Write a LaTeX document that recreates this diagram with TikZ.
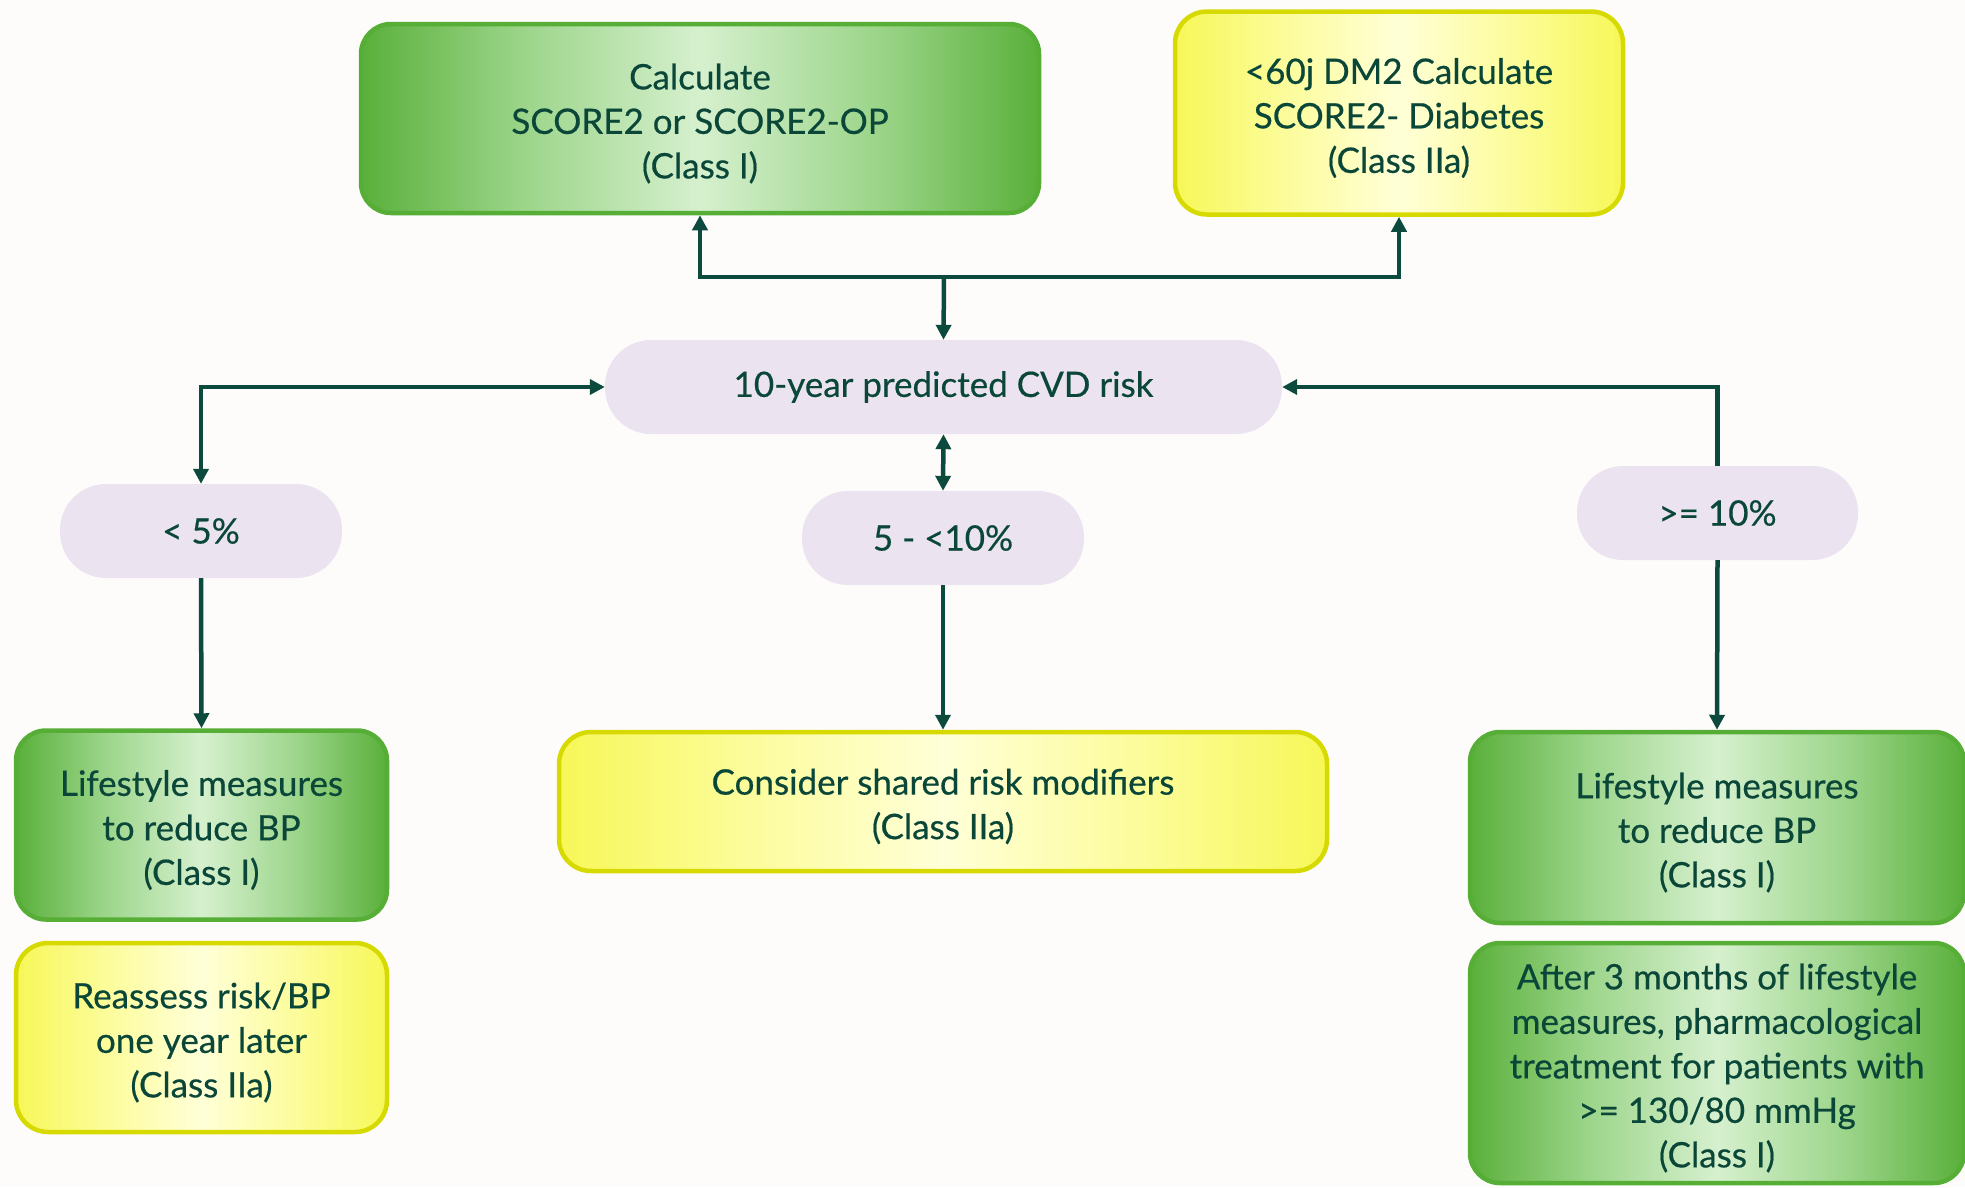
\documentclass[tikz,border=0pt]{standalone}
\usepackage{fontspec}
\setmainfont{Lato}[FakeBold=0.5]
\usetikzlibrary{arrows.meta}
\definecolor{txt}{HTML}{0A4739}
\definecolor{linec}{HTML}{0C4A3E}
\definecolor{bgc}{HTML}{FDFCFB}
\definecolor{pillc}{HTML}{ECE3F0}
\definecolor{gborder}{HTML}{57AE36}
\definecolor{gdark}{HTML}{5AB03B}
\definecolor{gmid}{HTML}{9CD58A}
\definecolor{glight}{HTML}{D6F0CE}
\definecolor{yborder}{HTML}{D7DA00}
\definecolor{ydark}{HTML}{F7F758}
\definecolor{ymid}{HTML}{FCFC9A}
\definecolor{ylight}{HTML}{FFFFD8}
\pgfdeclarehorizontalshading{greensh}{100bp}{color(0bp)=(gdark); color(25bp)=(gdark); color(37bp)=(gmid); color(50bp)=(glight); color(63bp)=(gmid); color(75bp)=(gdark); color(100bp)=(gdark)}
\pgfdeclarehorizontalshading{yellowsh}{100bp}{color(0bp)=(ydark); color(25bp)=(ydark); color(37bp)=(ymid); color(50bp)=(ylight); color(63bp)=(ymid); color(75bp)=(ydark); color(100bp)=(ydark)}
\tikzset{
  base/.style={text=txt, font=\fontsize{35}{44.5}\selectfont, align=center, inner sep=0pt},
  greenbox/.style={draw=gborder, line width=4.5pt, rounded corners=30pt, shade, shading=greensh, inner sep=0pt},
  yellowbox/.style={draw=yborder, line width=4.5pt, rounded corners=32pt, shade, shading=yellowsh, inner sep=0pt},
  boxtext/.style={base, yshift=-5pt},
  pill/.style={base, fill=pillc, rounded corners=46pt, minimum height=94pt},
  arr/.style={draw=linec, line width=4.5pt, -{Triangle[length=15pt,width=15pt]}},
  darr/.style={draw=linec, line width=4.5pt, {Triangle[length=15pt,width=15pt]}-{Triangle[length=15pt,width=15pt]}}
}
\begin{document}
\begin{tikzpicture}[x=1pt,y=-1pt]
\fill[bgc] (0,0) rectangle (1965,1187);
\useasboundingbox (0,0) rectangle (1965,1187);

\node[greenbox, minimum width=678pt, minimum height=189pt] (score) at (700,118.5) {};
\node[boxtext] (scoret) at (score.center) {Calculate\\SCORE2 or SCORE2-OP\\(Class I)};
\node[yellowbox, minimum width=448pt, minimum height=203pt] (diab) at (1399,113) {};
\node[boxtext] (diabt) at (diab.center) {<60j DM2 Calculate\\SCORE2- Diabetes\\(Class IIa)};

\node[pill, minimum width=677pt] (cvd) at (943.5,387) {\raisebox{-3pt}{10-year predicted CVD risk}};
\node[pill, minimum width=282pt] (low) at (201,531) {< 5\%};
\node[pill, minimum width=282pt] (mid) at (943,538) {5 - <10\%};
\node[pill, minimum width=281pt] (high) at (1717.5,513) {>= 10\%};

\node[greenbox, minimum width=371pt, minimum height=189pt] (lifel) at (201.5,825) {};
\node[boxtext] (lifelt) at (lifel.center) {Lifestyle measures\\to reduce BP\\(Class I)};
\node[yellowbox, minimum width=371pt, minimum height=189pt] (reass) at (201.5,1037.5) {};
\node[boxtext] (reasst) at (reass.center) {Reassess risk/BP\\one year later\\(Class IIa)};
\node[yellowbox, minimum width=768pt, minimum height=139pt] (cons) at (943,801.5) {};
\node[boxtext] (const) at (cons.center) {Consider shared risk modifiers\\(Class IIa)};
\node[greenbox, minimum width=494pt, minimum height=191pt] (lifer) at (1717,827.5) {};
\node[boxtext] (lifert) at (lifer.center) {Lifestyle measures\\to reduce BP\\(Class I)};
\node[greenbox, minimum width=494pt, minimum height=240pt] (after) at (1717,1063) {};
\node[boxtext] (aftert) at (after.center) {After 3 months of lifestyle\\measures, pharmacological\\treatment for patients with\\>= 130/80 mmHg\\(Class I)};

\coordinate (j) at (944,277);
\draw[arr] (j) -- (cvd.north);
\draw[arr] (j) -| (score.south);
\draw[arr] (j) -| (diab.south);
\draw[darr] (low.north) |- (cvd.west);
\draw[arr] (high.north) |- (cvd.east);
\draw[darr] (cvd.south) -- (mid.north);
\draw[arr] (low.south) -- (lifel.north);
\draw[arr] (mid.south) -- (cons.north);
\draw[arr] (high.south) -- (lifer.north);
\end{tikzpicture}
\end{document}
